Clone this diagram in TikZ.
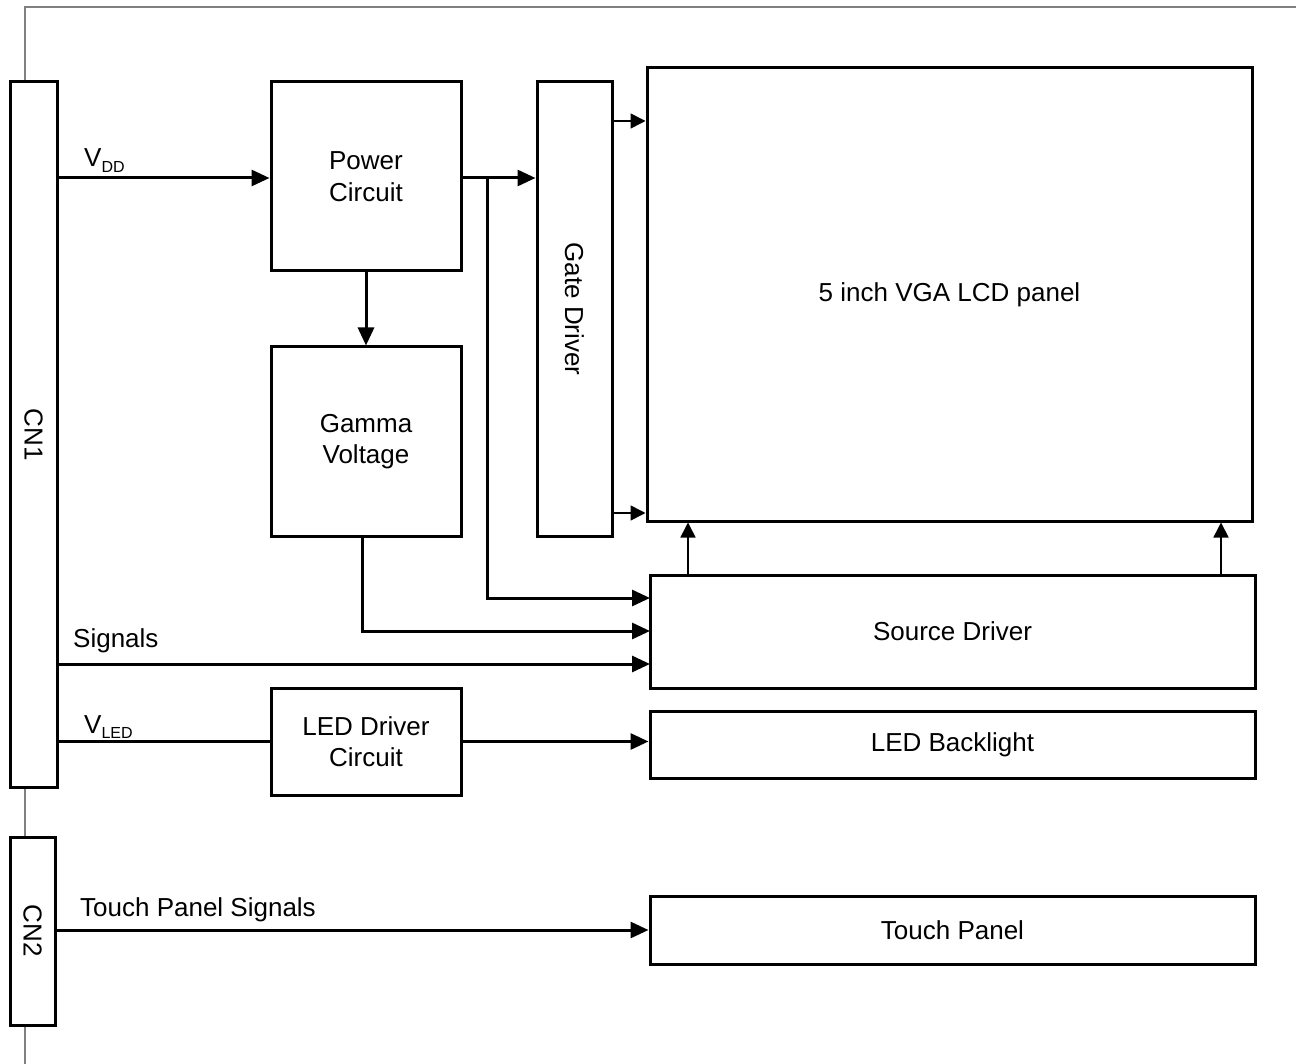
\documentclass[tikz,border=0pt]{standalone}
\usepackage{fontspec}
\setmainfont{Liberation Sans}
\usetikzlibrary{arrows.meta}
\newcommand{\mysub}[1]{\raisebox{-5.5pt}{\fontsize{16}{16}\selectfont #1}}
\begin{document}
\begin{tikzpicture}[x=1pt,y=-1pt,
  box/.style={draw,line width=3pt,fill=white,inner sep=0pt,align=center,font=\fontsize{26}{31.5}\selectfont},
  lbl/.style={anchor=base west,inner sep=0pt,font=\fontsize{26}{31.5}\selectfont},
  bigarrow/.style={line width=3pt,-{Triangle[length=18pt,width=16pt]}},
  plain/.style={line width=3pt},
  thinarrow/.style={line width=1.6pt,-{Triangle[length=15pt,width=15pt]}}]
\useasboundingbox (0,0) rectangle (1296,1064);
% outer frame
\draw[line width=1.3pt,color=black!50] (25,1064) -- (25,7) -- (1296,7);
% boxes
\node[box,minimum width=47,minimum height=705] (cn1) at (33.5,434.5) {\rotatebox{-90}{CN1}};
\node[box,minimum width=45,minimum height=188] (cn2) at (32.5,931) {\rotatebox{-90}{CN2}};
\node[box,minimum width=190,minimum height=189] (pwr) at (366,176.5) {Power\\Circuit};
\node[box,minimum width=190,minimum height=189] (gam) at (366,441.5) {Gamma\\Voltage};
\node[box,minimum width=75,minimum height=454] (gate) at (574.5,309) {\rotatebox{-90}{Gate Driver}};
\node[box,minimum width=605,minimum height=453] (lcd) at (949.5,294.5) {5 inch VGA LCD panel};
\node[box,minimum width=605,minimum height=113] (src) at (952.5,631.5) {Source Driver};
\node[box,minimum width=190,minimum height=107] (led) at (366,741.5) {LED Driver\\Circuit};
\node[box,minimum width=605,minimum height=67] (bl) at (952.5,744.5) {LED Backlight};
\node[box,minimum width=605,minimum height=68] (tp) at (952.5,930) {Touch Panel};
% labels
\node[lbl] (lvdd) at (84,167) {V\mysub{DD}};
\node[lbl] (lsig) at (73,647) {Signals};
\node[lbl] (lvled) at (84,733) {V\mysub{LED}};
\node[lbl] (ltp) at (80,916) {Touch Panel Signals};
% coordinates
\coordinate (br) at (487,178);
\coordinate (gs) at (362,536);
\coordinate (s1) at (650,598);
\coordinate (s2) at (650,631);
\coordinate (s3) at (650,664);
\coordinate (g1) at (612,121);
\coordinate (g2) at (612,513);
\coordinate (u1) at (688,575);
\coordinate (u2) at (1221,575);
% connectors
\draw[bigarrow] (cn1.east |- br) -- (pwr.west |- br);
\draw[bigarrow] (pwr.south) -- (gam.north);
\draw[bigarrow] (pwr.east |- br) -- (gate.west |- br);
\draw[bigarrow] (br) |- (s1);
\draw[bigarrow] (gs) |- (s2);
\draw[bigarrow] (cn1.east |- s3) -- (s3);
\draw[plain] (cn1.east |- led.west) -- (led.west);
\draw[bigarrow] (led.east) -- (bl.west |- led.east);
\draw[bigarrow] (cn2.east |- tp.west) -- (tp.west);
\draw[thinarrow] (g1) -- (lcd.west |- g1);
\draw[thinarrow] (g2) -- (lcd.west |- g2);
\draw[thinarrow] (u1) -- (u1 |- lcd.south);
\draw[thinarrow] (u2) -- (u2 |- lcd.south);
\end{tikzpicture}
\end{document}
